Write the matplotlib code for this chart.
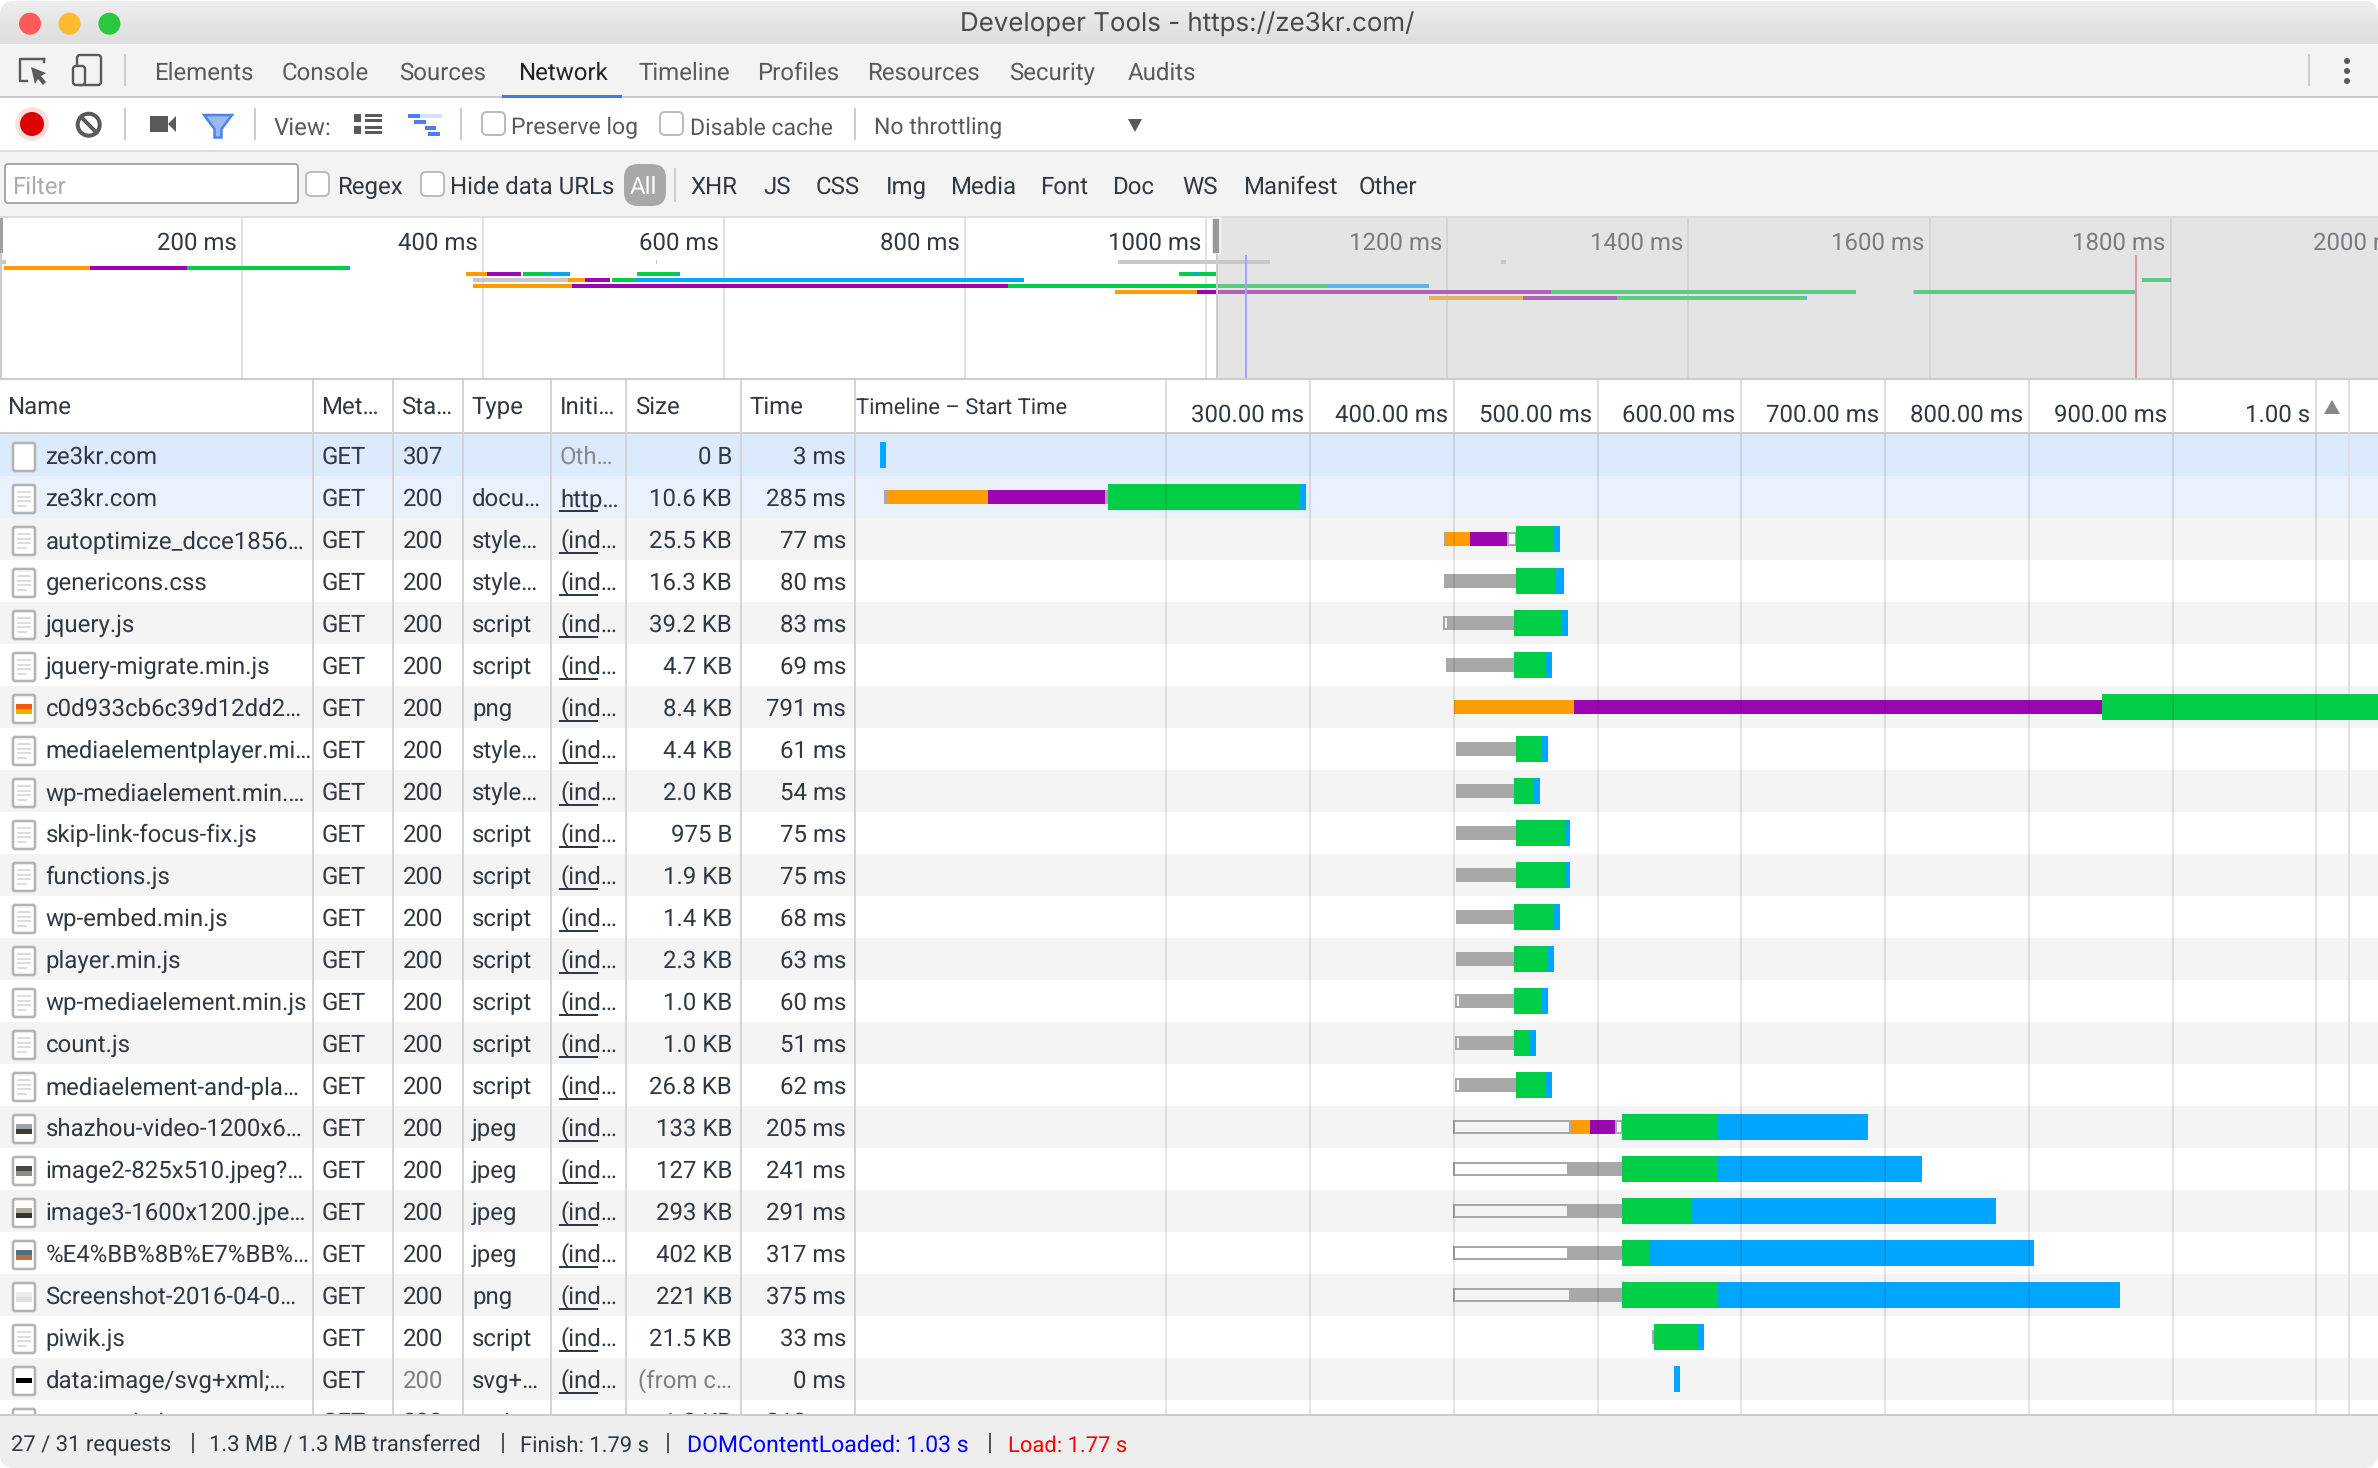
# Network panel waterfall, drawn on a pixel-sized page axes plus two time axes
import numpy as np
import matplotlib
matplotlib.use("Agg")
import matplotlib.pyplot as plt
from matplotlib.patches import Rectangle, FancyBboxPatch, Circle, Polygon

plt.rcParams["font.family"] = ["Roboto", "DejaVu Sans"]
plt.rcParams["text.hinting"] = "no_hinting"
plt.rcParams["text.hinting_factor"] = 1

W, H = 2378, 1468
PX = 0.72   # one pixel in points at dpi 100
FS = 23.7 * PX

# ── Table columns ──────────────────────────────
names = ["ze3kr.com", "ze3kr.com", "autoptimize_dcce1856…", "genericons.css", "jquery.js",
         "jquery-migrate.min.js", "c0d933cb6c39d12dd2…", "mediaelementplayer.mi…",
         "wp-mediaelement.min.…", "skip-link-focus-fix.js", "functions.js", "wp-embed.min.js",
         "player.min.js", "wp-mediaelement.min.js", "count.js", "mediaelement-and-pla…",
         "shazhou-video-1200x6…", "image2-825x510.jpeg?…", "image3-1600x1200.jpe…",
         "%E4%BB%8B%E7%BB%…", "Screenshot-2016-04-0…", "piwik.js", "data:image/svg+xml;…",
         "count.min.js"]
statuses = ["307"] + ["200"] * 23
types = ["", "docu…", "style…", "style…", "script", "script", "png", "style…", "style…",
         "script", "script", "script", "script", "script", "script", "script", "jpeg", "jpeg",
         "jpeg", "jpeg", "png", "script", "svg+…", "script"]
initiators = ["Oth…", "http…"] + ["(ind…"] * 21 + [""]
sizes = ["0 B", "10.6 KB", "25.5 KB", "16.3 KB", "39.2 KB", "4.7 KB", "8.4 KB", "4.4 KB",
         "2.0 KB", "975 B", "1.9 KB", "1.4 KB", "2.3 KB", "1.0 KB", "1.0 KB", "26.8 KB",
         "133 KB", "127 KB", "293 KB", "402 KB", "221 KB", "21.5 KB", "(from c…", "1.0 KB"]
times = ["3 ms", "285 ms", "77 ms", "80 ms", "83 ms", "69 ms", "791 ms", "61 ms", "54 ms",
         "75 ms", "75 ms", "68 ms", "63 ms", "60 ms", "51 ms", "62 ms", "205 ms", "241 ms",
         "291 ms", "317 ms", "375 ms", "33 ms", "0 ms", "212 ms"]
headers = ["Name", "Met…", "Sta…", "Type", "Initi…", "Size", "Time"]
tabs = ["Elements", "Console", "Sources", "Network", "Timeline", "Profiles", "Resources",
        "Security", "Audits"]
filters = ["XHR", "JS", "CSS", "Img", "Media", "Font", "Doc", "WS", "Manifest", "Other"]

# ── Waterfall spans: (row, start ms, end ms) ───
queued_spans = [(1, 157.8, 159.2), (2, 437.5, 443.2), (3, 441.8, 443.2), (4, 393.1, 395.9),
                (4, 440.4, 441.8), (5, 440.4, 441.8), (7, 441.8, 443.2), (9, 441.8, 443.2),
                (10, 441.8, 443.2), (11, 440.4, 441.8), (13, 401.4, 404.2), (14, 401.4, 404.2),
                (14, 440.4, 441.8), (15, 401.4, 404.2), (15, 441.8, 443.2), (16, 400, 480.7),
                (16, 512.7, 516.9), (17, 400, 479.3), (18, 400, 479.3), (19, 400, 479.3),
                (20, 400, 480.7)]
stalled_spans = [(1, 3.5, 5.8), (2, 393.1, 394.2), (3, 393.1, 441.8), (4, 395.9, 440.4),
                 (5, 394.5, 440.4), (7, 401.3, 441.8), (8, 401.3, 441.8), (9, 401.3, 441.8),
                 (10, 401.3, 441.8), (11, 401.3, 440.4), (12, 401.4, 441.8), (13, 404.2, 441.8),
                 (14, 404.2, 440.4), (15, 404.2, 441.8), (17, 479.3, 516.9), (18, 479.3, 516.9),
                 (19, 479.3, 516.9), (20, 480.7, 516.9), (21, 537.8, 539.2)]
dns_spans = [(1, 5.8, 75.8), (2, 394.2, 411.2), (6, 399.9, 483.6), (16, 480.7, 494.6)]
connect_spans = [(1, 75.8, 157.8), (2, 411.2, 437.5), (6, 483.6, 850.8), (16, 494.6, 512.7)]
waiting_spans = [(1, 159.2, 292.9), (2, 443.2, 469.8), (3, 443.2, 471.2), (4, 441.8, 475.4),
                 (5, 441.8, 463.8), (6, 850.8, 1191), (7, 443.2, 461.2), (8, 441.8, 455.7),
                 (9, 443.2, 476.9), (10, 443.2, 476.9), (11, 441.8, 469.8), (12, 441.8, 465.4),
                 (13, 441.8, 461.2), (14, 441.8, 452.9), (15, 443.2, 464), (16, 516.9, 583.7),
                 (17, 516.9, 583.7), (18, 516.9, 565.1), (19, 516.9, 536), (20, 516.9, 583.7),
                 (21, 539.2, 569.3)]
receive_spans = [(0, 0.7, 4.9), (1, 292.9, 296.9), (2, 469.8, 473.8), (3, 471.2, 476.6),
                 (4, 475.4, 479.3), (5, 463.8, 468.2), (7, 461.2, 465.4), (8, 455.7, 459.9),
                 (9, 476.9, 480.7), (10, 476.9, 480.7), (11, 469.8, 473.8), (12, 465.4, 469.6),
                 (13, 461.2, 465.4), (14, 452.9, 457), (15, 464, 468.2), (16, 583.7, 688),
                 (17, 583.7, 725.6), (18, 565.1, 777.1), (19, 536, 803.5), (20, 583.7, 863.4),
                 (21, 569.3, 573.9), (22, 553.1, 557.2)]
waterfall_ticks = [200, 300, 400, 500, 600, 700, 800, 900, 1000]
waterfall_labels = ["", "300.00 ms", "400.00 ms", "500.00 ms", "600.00 ms", "700.00 ms",
                    "800.00 ms", "900.00 ms", "1.00 s"]

# ── Overview spans: (track, start ms, end ms) ──
over_gray = [(0, 0, 4), (0, 543, 544), (0, 927, 1052.7), (0, 1244.4, 1248.5), (3, 391.5, 470.3),
             (5, 1586.2, 1587)]
over_orange = [(1, 2.3, 73.7), (2, 385.6, 402.7), (3, 470.3, 484), (4, 391.5, 473.6),
               (5, 924.5, 992.2), (6, 1184.6, 1262.6)]
over_purple = [(1, 73.7, 153.9), (2, 402.7, 431.3), (3, 484, 505.2), (4, 473.6, 835.2),
               (5, 992.2, 1285.9), (6, 1262.6, 1340.6)]
over_green = [(1, 153.9, 286.9), (2, 432.6, 449.5), (2, 452, 455), (2, 527.2, 561.5),
              (2, 977.2, 989.7), (2, 993, 1007.1), (3, 506.8, 526), (3, 1776.6, 1799.5),
              (4, 835.2, 1100.8), (5, 1285.9, 1538), (5, 1587, 1769.6), (6, 1340.6, 1497.4)]
over_blue = [(1, 286.9, 289.4), (2, 449.5, 452), (2, 455, 472), (2, 561.5, 563),
             (2, 989.7, 993), (2, 1007.1, 1008), (3, 526, 849), (3, 1799.5, 1800),
             (4, 1100.8, 1184.6), (5, 1538, 1539), (5, 1769.6, 1770.4), (6, 1497.4, 1498)]
over_ticks = [200, 400, 600, 800, 1000, 1200, 1400, 1600, 1800, 2000]
dom_content_loaded = 1033
load_event = 1771

GRAY, ORANGE, PURPLE, GREEN, BLUE = "#a8a8a8", "#ff9d00", "#9c06b0", "#00ce46", "#00a6ff"
TEXT = "#303942"
TAB = "#5a5a5a"
LINE = "#cccccc"

fig = plt.figure(figsize=(W / 100, H / 100), dpi=100, facecolor="white")
page = fig.add_axes([0, 0, 1, 1], zorder=0)
page.set_axis_off()


def rect(x0, y0, x1, y1, color, zorder=1, **kw):
    p = Rectangle((x0, y0), x1 - x0, y1 - y0, facecolor=color, edgecolor="none", zorder=zorder, **kw)
    page.add_patch(p)
    return p


def box(x0, y0, x1, y1, face, edge, lw=2, radius=3, zorder=3):
    p = FancyBboxPatch((x0, y0), x1 - x0, y1 - y0, boxstyle=f"round,pad=0,rounding_size={radius}",
                       facecolor=face, edgecolor=edge, linewidth=lw * PX, zorder=zorder)
    page.add_patch(p)
    return p


def label(x, y, s, color=TEXT, ha="left", zorder=5, size=FS, **kw):
    return page.text(x, y, s, color=color, ha=ha, va="baseline", fontsize=size, zorder=zorder, **kw)


def vline(x, y0, y1, color=LINE, lw=2, zorder=2):
    page.plot([x, x], [y0, y1], color=color, lw=lw * PX, zorder=zorder, solid_capstyle="butt")


def axes_px(x0, y0, x1, y1, zorder):
    a = fig.add_axes([x0 / W, 1 - y1 / H, (x1 - x0) / W, (y1 - y0) / H], zorder=zorder)
    a.patch.set_alpha(0)
    a.set_axis_off()
    return a


def draw_spans(a, spans, color, height, zorder=3):
    rows = [s[0] + 0.5 for s in spans]
    widths = [s[2] - s[1] for s in spans]
    lefts = [s[1] for s in spans]
    a.barh(rows, widths, left=lefts, height=height, color=color, linewidth=0, zorder=zorder)


# ── Window chrome ──────────────────────────────
window = FancyBboxPatch((0, 1), W, H - 1, boxstyle="round,pad=0,rounding_size=14",
                        facecolor="white", edgecolor="none", zorder=0)
page.add_patch(window)
title_bg = page.imshow(np.linspace(0.93, 0.865, 44).reshape(-1, 1), cmap="gray", vmin=0, vmax=1,
                       extent=(0, W, 44, 0), aspect="auto", zorder=1)
title_bg.set_clip_path(window)
page.set_xlim(0, W)
page.set_ylim(H, 0)

for cx, col in zip([30, 69.6, 109.4], ["#fc5b57", "#fdbc2e", "#2ac83f"]):
    page.add_patch(Circle((cx, 23.7), 11, facecolor=col, edgecolor="none", zorder=3))
page.text(1187, 31.5, "Developer Tools - https://ze3kr.com/", color="#4a4a4a", ha="center", va="baseline",
          fontsize=25.9 * PX, family=["Inter", "DejaVu Sans"], zorder=5)

rect(0, 44, W, 96, "#f3f3f3")
rect(0, 96, W, 98, LINE)
rect(0, 150, W, 152, "#dcdcdc")
rect(0, 152, W, 216, "#f3f3f3")
rect(0, 216, W, 218, "#dcdcdc")
rect(0, 378, W, 380, LINE)
rect(0, 432, W, 434, LINE)
rect(502, 95, 622, 98, "#3e7bf0", zorder=3)

tab_x = [154, 281.5, 399.5, 518, 638.5, 757.5, 867, 1009.5, 1128]
for x, s in zip(tab_x, tabs):
    label(x, 80, s, color="#222222" if s == "Network" else TAB)

# top left icons
for seg in [([44, 44], [62, 59]), ([44, 20, 20, 27], [59, 59, 81, 81])]:
    page.plot(seg[0], seg[1], color=TAB, lw=2.4 * PX, zorder=3)
page.add_patch(Polygon([(31, 67), (46, 73), (41, 76), (46, 82), (43, 85), (38, 79), (35, 84)],
                       facecolor=TAB, edgecolor="none", zorder=3))
box(77, 55, 101, 85, "#f3f3f3", TAB, lw=2.4)
box(73, 66, 85, 85, "#f3f3f3", TAB, lw=2.4, zorder=4)
vline(125, 54, 86)
vline(2308.7, 54, 86)
for cy in (61, 71, 81):
    page.add_patch(Circle((2347, cy), 3, facecolor=TAB, edgecolor="none", zorder=3))

# record row
page.add_patch(Circle((32, 124), 17, facecolor="#dd0000", alpha=0.12, edgecolor="none", zorder=3))
page.add_patch(Circle((32, 124), 12, facecolor="#dd0000", edgecolor="none", zorder=3))
page.add_patch(Circle((88.7, 124.7), 11, facecolor="none", edgecolor=TAB, linewidth=4 * PX, zorder=3))
page.plot([81, 96.5], [117, 132.5], color=TAB, lw=4 * PX, zorder=3)
rect(150, 116, 168, 132, TAB, zorder=3)
page.add_patch(Polygon([(168, 124), (176, 116), (176, 132)], facecolor=TAB, edgecolor="none", zorder=3))
page.add_patch(Polygon([(204, 115), (232, 115), (221.5, 129), (221.5, 137.5), (214.5, 137.5), (214.5, 129)],
                       facecolor="#9cb8f0", edgecolor="#4c82f5", linewidth=2.5 * PX, zorder=3))
for x in (125, 255, 460.6, 854.6):
    vline(x, 108, 140)
label(274, 134.5, "View:", color=TAB)
for y0, y1 in [(114, 122), (126, 134)]:
    rect(354, y0, 361, y1, TAB, zorder=3)
    rect(365, y0, 382, y0 + 3, TAB, zorder=3)
    rect(365, y1 - 3, 382, y1, TAB, zorder=3)
rect(408, 114, 442, 118, "#d4e2f9", zorder=3)
rect(408, 114, 420, 118, "#4a7ff0", zorder=4)
rect(414, 120, 426, 124, "#4a7ff0", zorder=3)
rect(425, 126, 436, 130, "#4a7ff0", zorder=3)
rect(428, 132, 440, 136, "#4a7ff0", zorder=3)
box(482, 112, 505, 135, "white", "#bbbbbb", radius=5)
label(511, 134.5, "Preserve log", color=TAB, size=FS * 0.985)
box(660, 112, 683, 135, "white", "#bbbbbb", radius=5)
label(690, 134.5, "Disable cache", color=TAB, size=FS * 0.985)
label(874, 134.5, "No throttling", color=TAB, size=FS * 0.985)
page.add_patch(Polygon([(1128, 119), (1142, 119), (1135, 132)], facecolor=TAB, edgecolor="none", zorder=3))

# filter row
box(5, 164, 298, 203, "white", "#aaaaaa", radius=3)
label(12, 194, "Filter", color="#aaaaaa")
box(306, 172, 329, 196, "white", "#bbbbbb", radius=5)
label(337, 194, "Regex")
box(421, 172, 444, 196, "white", "#bbbbbb", radius=5)
label(450.5, 194, "Hide data URLs")
box(624, 164, 666, 206, "#a8a8a8", "none", radius=14)
label(643.5, 194, "All", color="white", ha="center")
vline(675, 168, 202)
filter_x = [690.5, 763, 815.6, 886, 950.5, 1040.5, 1112.5, 1182.5, 1243.5, 1359]
for x, s in zip(filter_x, filters):
    label(x, 194, s)

# ── Table ──────────────────────────────────────
ROW_TOP = 434
ROW_H = 42
for i in range(23):
    y0 = ROW_TOP + i * ROW_H
    bg = "#dceafd" if i == 0 else "#eaf1fc" if i == 1 else "#f4f4f4" if i % 2 == 0 else "white"
    rect(0, y0, W, y0 + ROW_H, bg, zorder=1)

column_x = [312.6, 392.8, 463, 551, 626, 741, 855]
for x in column_x:
    vline(x, 380, 1414, color="#d4d4d4")
vline(2349, 380, 1414, color="#e0e0e0")

header_x = [7.5, 321.5, 401.5, 471.5, 559.5, 635.5, 749.5]
for x, s in zip(header_x, headers):
    label(x, 413.6, s)
label(856.5, 413.6, "Timeline – Start Time", size=22.3 * PX)
page.add_patch(Polygon([(2324, 414), (2340, 414), (2332, 400)], facecolor="#888888", edgecolor="none", zorder=3))

thumbs = {6: ("#f05a00", "#f0b000"), 16: ("#9aa4a8", "#3a3a34"), 17: ("#4a4a44", "#8a8f80"),
          18: ("#b0aa98", "#30352e"), 19: ("#5a6a80", "#c07030"), 20: ("#ececec", "#e0e0e0")}
for i, name in enumerate(names):
    y0 = ROW_TOP + i * ROW_H
    base = y0 + 29.8
    box(13, y0 + 9, 35, y0 + 37, "white", "#b4b4b4", lw=2.6, radius=2)
    if i in thumbs:
        top, bottom = thumbs[i]
        rect(16, y0 + 18, 32, y0 + 23, top, zorder=4)
        rect(16, y0 + 23, 32, y0 + 28, bottom, zorder=4)
    elif i == 22:
        rect(16, y0 + 20, 32, y0 + 25, "#000000", zorder=4)
    elif i > 0:
        for k in range(4):
            rect(17, y0 + 15 + k * 4.5, 31 - 4 * (k == 3), y0 + 17 + k * 4.5, "#dddddd", zorder=4)
    label(45.5, base, name)
    label(322, base, "GET")
    label(402.5, base, statuses[i], color="#808080" if i == 22 else TEXT)
    label(472, base, types[i])
    ini = initiators[i]
    label(560, base, ini, color="#8a8a8a" if ini.startswith("Oth") else TEXT)
    if ini and not ini.startswith("Oth"):
        page.plot([560, 597], [base + 5, base + 5], color=TEXT, lw=2 * PX, zorder=5)
    label(732, base, sizes[i], color="#808080" if sizes[i].startswith("(") else TEXT, ha="right")
    label(846, base, times[i], ha="right")

# ── Waterfall ──────────────────────────────────
wf = axes_px(857, ROW_TOP, W, 1414, 2)
wf.set_xlim((857 - 879) / 1.4375, (W - 879) / 1.4375)
wf.set_ylim((1414 - ROW_TOP) / ROW_H, 0)
tall, thin = 26 / ROW_H, 14 / ROW_H
for spans, color in [(stalled_spans, GRAY), (dns_spans, ORANGE), (connect_spans, PURPLE)]:
    draw_spans(wf, spans, color, thin)
wf.barh([s[0] + 0.5 for s in queued_spans], [s[2] - s[1] for s in queued_spans],
        left=[s[1] for s in queued_spans], height=thin - 2 / ROW_H, fill=False,
        edgecolor=GRAY, linewidth=2 * PX, zorder=3)
draw_spans(wf, waiting_spans, GREEN, tall, zorder=4)
draw_spans(wf, receive_spans, BLUE, tall, zorder=4)
wf.vlines(waterfall_ticks, 0, 24, color="black", alpha=0.1, linewidth=2 * PX, zorder=6)

head = axes_px(857, 380, W, 432, 2)
head.set_xlim(wf.get_xlim())
head.set_ylim(1, 0)
head.vlines(waterfall_ticks, 0, 1, color="#dddddd", linewidth=2 * PX)
for t, s in zip(waterfall_ticks, waterfall_labels):
    head.annotate(s, (t, 0), xytext=(-6 * PX, -41.7 * PX), textcoords="offset points", ha="right",
                  va="baseline", fontsize=FS, color=TEXT)

# ── Overview ───────────────────────────────────
ov = axes_px(0, 218, W, 378, 1)
ov.set_xlim(-1, 1972.1)
ov.set_ylim(19.33 + 0.5, -7.33 + 0.5)
ov.vlines(over_ticks, -8, 20, color="#e0e0e0", linewidth=2 * PX, zorder=1)
for t in over_ticks:
    ov.annotate(f"{t} ms", (t, 0), xytext=(-5.5 * PX, (262 - 253) * PX), textcoords="offset points",
                ha="right", va="baseline", fontsize=FS, color=TEXT, zorder=2, annotation_clip=False)
draw_spans(ov, over_gray, "#c8c8c8", 4 / 6)
for spans, color in [(over_orange, ORANGE), (over_purple, PURPLE), (over_green, GREEN), (over_blue, BLUE)]:
    draw_spans(ov, spans, color, 4 / 6)
ov.axvspan(1008.7, 1973, color=(199 / 255, 199 / 255, 199 / 255), alpha=0.48, linewidth=0, zorder=6)
ov.vlines([dom_content_loaded], -0.67, 20, color="#a5a0fb", linewidth=2 * PX, zorder=7)
ov.vlines([load_event], -0.67, 20, color="#dd9a9a", linewidth=2 * PX, zorder=7)
rect(0, 218, 3, 253, "#a0a0a0", zorder=3)
rect(0, 253, 2, 378, LINE, zorder=3)

fig.add_artist(Rectangle((1212 / W, 1 - 254 / H), 8 / W, 36 / H, transform=fig.transFigure,
                         facecolor="#999999", edgecolor="white", linewidth=1.5 * PX, zorder=8))
fig.add_artist(Rectangle((1216 / W, 1 - 378 / H), 1.5 / W, 124 / H, transform=fig.transFigure,
                         facecolor="#cccccc", edgecolor="none", zorder=8))

# ── Status bar ─────────────────────────────────
rect(0, 1414, W, 1416, LINE, zorder=20)
rect(0, 1416, W, H, "#eeeeee", zorder=20).set_clip_path(window)
STATUS = 1451.7
label(11, STATUS, "27 / 31 requests", zorder=21, size=22.3 * PX)
label(209, STATUS, "1.3 MB / 1.3 MB transferred", zorder=21, size=22.3 * PX)
label(520, STATUS, "Finish: 1.79 s", zorder=21, size=22.3 * PX)
label(686.7, STATUS, "DOMContentLoaded: 1.03 s", color="#0000ff", zorder=21, size=23.2 * PX)
label(1007.7, STATUS, "Load: 1.77 s", color="#ff0000", zorder=21, size=22.3 * PX)
for x in (193, 502.5, 668, 990):
    vline(x, 1433, 1453, color="#555555", zorder=21)

fig.savefig("out.png", dpi=100)
